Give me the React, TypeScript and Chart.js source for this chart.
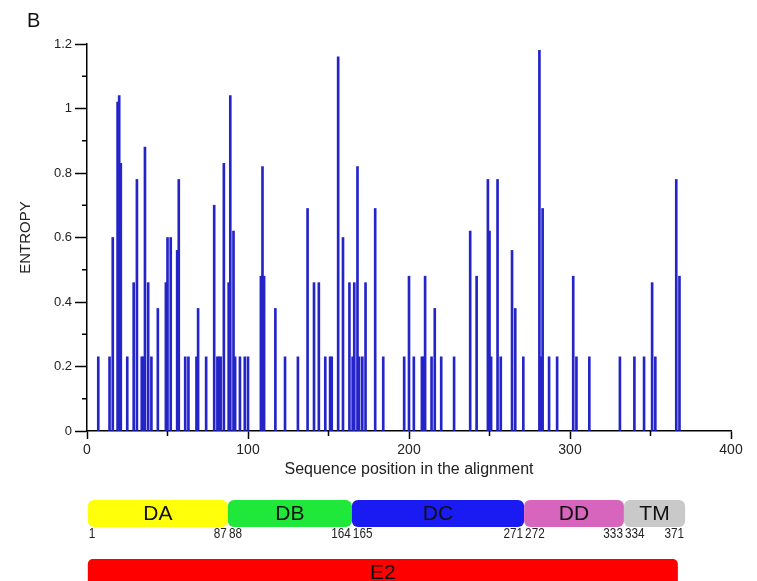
import React, { useEffect, useRef } from "react";
import { Chart, registerables } from "chart.js";

Chart.register(...registerables);

// Entropy per alignment position (only non-zero positions are listed)
const positions: number[] = [
  7, 14, 16, 19, 20, 21, 25, 29, 31, 34, 35, 36, 38, 40, 44, 49, 50, 52, 56, 57,
  61, 63, 68, 69, 74, 79, 81, 82, 83, 85, 88, 89, 91, 92, 95, 98, 100,
  108, 109, 110, 117, 123, 131, 137, 141, 144, 148, 151, 152, 156, 159, 163,
  165, 166, 168, 169, 171, 173, 179, 184, 197, 200, 203, 208, 209, 210, 214,
  216, 220, 228, 238, 242, 249, 250, 251, 255, 257, 264, 266, 271,
  281, 282, 283, 287, 292, 302, 304, 312, 331, 340, 346, 351, 353, 366, 368,
];
const entropy: number[] = [
  0.23, 0.23, 0.6, 1.02, 1.04, 0.83, 0.23, 0.46, 0.78, 0.23, 0.23, 0.88, 0.46, 0.23, 0.38, 0.46, 0.6, 0.6, 0.56, 0.78,
  0.23, 0.23, 0.23, 0.38, 0.23, 0.7, 0.23, 0.23, 0.23, 0.83, 0.46, 1.04, 0.62, 0.23, 0.23, 0.23, 0.23,
  0.48, 0.82, 0.48, 0.38, 0.23, 0.23, 0.69, 0.46, 0.46, 0.23, 0.23, 0.23, 1.16, 0.6, 0.46,
  0.23, 0.46, 0.82, 0.23, 0.23, 0.46, 0.69, 0.23, 0.23, 0.48, 0.23, 0.23, 0.23, 0.48, 0.23,
  0.38, 0.23, 0.23, 0.62, 0.48, 0.78, 0.62, 0.23, 0.78, 0.23, 0.56, 0.38, 0.23,
  1.18, 0.23, 0.69, 0.23, 0.23, 0.48, 0.23, 0.23, 0.23, 0.23, 0.23, 0.46, 0.23, 0.78, 0.48,
];

// Domain map
const domainNames: string[] = ["DA", "DB", "DC", "DD", "TM"];
const domainStarts: number[] = [1, 88, 165, 272, 334];
const domainEnds: number[] = [87, 164, 271, 333, 371];
const domainColors: string[] = ["#ffff0a", "#1fe83a", "#1a1af2", "#d865bd", "#c9c9c9"];
const proteinName = "E2";
const proteinStart = 1;
const proteinEnd = 367;
const proteinColor = "#ff0000";

const panelLetter = "B";
const xTitle = "Sequence position in the alignment";
const yTitle = "ENTROPY";

const FONT = "'Liberation Sans', Arial, sans-serif";

function narrowText(ctx: CanvasRenderingContext2D, text: string, x: number, y: number, align: "left" | "right") {
  const sx = 0.84;
  ctx.save();
  ctx.translate(x, y);
  ctx.scale(sx, 1);
  ctx.textAlign = align;
  ctx.fillText(text, 0, 0);
  ctx.restore();
}

const extrasPlugin = {
  id: "extras",
  afterDraw(chart: any) {
    const ctx = chart.ctx as CanvasRenderingContext2D;
    const xs = chart.scales.x;
    const ys = chart.scales.y;
    ctx.save();
    // minor ticks
    ctx.strokeStyle = "#000";
    ctx.lineWidth = 1.5;
    for (let k = 1; k < 12; k += 2) {
      const py = ys.getPixelForValue(k / 10);
      ctx.beginPath();
      ctx.moveTo(xs.left - 5, py);
      ctx.lineTo(xs.left, py);
      ctx.stroke();
    }
    for (let v = 50; v < 400; v += 100) {
      const px = xs.getPixelForValue(v);
      ctx.beginPath();
      ctx.moveTo(px, ys.bottom);
      ctx.lineTo(px, ys.bottom + 5);
      ctx.stroke();
    }
    // panel letter
    ctx.fillStyle = "#111";
    ctx.font = `20px ${FONT}`;
    ctx.textAlign = "left";
    ctx.textBaseline = "middle";
    ctx.fillText(panelLetter, 27, 21);

    // domains
    const top = 500;
    const h = 27;
    for (let i = 0; i < domainNames.length; i++) {
      const x0 = xs.getPixelForValue(domainStarts[i] - 0.5);
      const x1 = xs.getPixelForValue(domainEnds[i] + 0.5);
      ctx.fillStyle = domainColors[i];
      ctx.beginPath();
      (ctx as any).roundRect(x0, top, x1 - x0, h, 6);
      ctx.fill();
      ctx.fillStyle = "#111";
      ctx.font = `21px ${FONT}`;
      ctx.textAlign = "center";
      ctx.textBaseline = "middle";
      ctx.fillText(domainNames[i], (x0 + x1) / 2, top + h / 2 + 1);
      ctx.font = `14px ${FONT}`;
      ctx.fillStyle = "#222";
      narrowText(ctx, String(domainStarts[i]), x0 + 1, 534, "left");
      narrowText(ctx, String(domainEnds[i]), x1 - 1, 534, "right");
    }
    // protein bar
    const e0 = xs.getPixelForValue(proteinStart - 0.5);
    const e1 = xs.getPixelForValue(proteinEnd);
    ctx.fillStyle = proteinColor;
    ctx.beginPath();
    (ctx as any).roundRect(e0, 559, e1 - e0, 30, 5);
    ctx.fill();
    ctx.fillStyle = "#111";
    ctx.font = `21px ${FONT}`;
    ctx.textAlign = "center";
    ctx.textBaseline = "middle";
    ctx.fillText(proteinName, (e0 + e1) / 2, 573);
    ctx.restore();
  },
};

export default function App() {
  const ref = useRef<HTMLCanvasElement | null>(null);
  useEffect(() => {
    if (!ref.current) return;
    const chart = new Chart(ref.current, {
      type: "bar",
      data: {
        datasets: [
          {
            data: positions.map((p, i) => ({ x: p, y: entropy[i] })),
            backgroundColor: "#2424c8",
            borderWidth: 0,
            barThickness: 2,
          },
        ],
      },
      options: {
        responsive: false,
        animation: false,
        devicePixelRatio: 1,
        layout: { padding: { left: 0, right: 26, top: 44, bottom: 102 } },
        plugins: { legend: { display: false }, tooltip: { enabled: false } },
        scales: {
          x: {
            type: "linear",
            offset: false,
            min: 0,
            max: 400,
            afterFit: (s: any) => {
              s.height = 48;
            },
            border: { display: true, color: "#000", width: 1.5 },
            grid: {
              offset: false,
              drawOnChartArea: false,
              drawTicks: true,
              tickLength: 8,
              tickWidth: 1.5,
              tickColor: (c: any) =>
                c.tick && Math.round(c.tick.value) % 100 === 0 ? "#000" : "rgba(0,0,0,0)",
            },
            ticks: {
              stepSize: 50,
              padding: 3,
              color: "#222",
              font: { family: FONT, size: 14 },
              maxRotation: 0,
              callback: (v: any) => (Math.round(v) % 100 === 0 ? String(Math.round(v)) : ""),
            },
            title: {
              display: true,
              text: xTitle,
              color: "#222",
              font: { family: FONT, size: 16 },
              padding: { top: 0, bottom: 0 },
            },
          },
          y: {
            min: 0,
            max: 1.2,
            afterFit: (s: any) => {
              s.width = 87;
            },
            border: { display: true, color: "#000", width: 1.5 },
            grid: {
              offset: false,
              drawOnChartArea: false,
              drawTicks: true,
              tickLength: 12,
              tickWidth: 1.5,
              tickColor: (c: any) =>
                c.tick && Math.round(c.tick.value * 10) % 2 === 0 ? "#000" : "rgba(0,0,0,0)",
            },
            ticks: {
              stepSize: 0.1,
              padding: 3,
              color: "#222",
              font: { family: FONT, size: 13 },
              callback: (v: any) => {
                const k = Math.round(v * 10);
                return k % 2 === 0 ? String(k / 10) : "";
              },
            },
            title: {
              display: true,
              text: yTitle,
              color: "#222",
              font: { family: FONT, size: 15 },
              padding: { top: 17, bottom: 0 },
            },
          },
        },
      },
      plugins: [extrasPlugin],
    } as any);
    return () => chart.destroy();
  }, []);
  return (
    <div style={{ position: "fixed", left: 0, top: 0, width: 757, height: 581, background: "#fff" }}>
      <canvas ref={ref} width={757} height={581} style={{ width: 757, height: 581, display: "block" }} />
    </div>
  );
}
